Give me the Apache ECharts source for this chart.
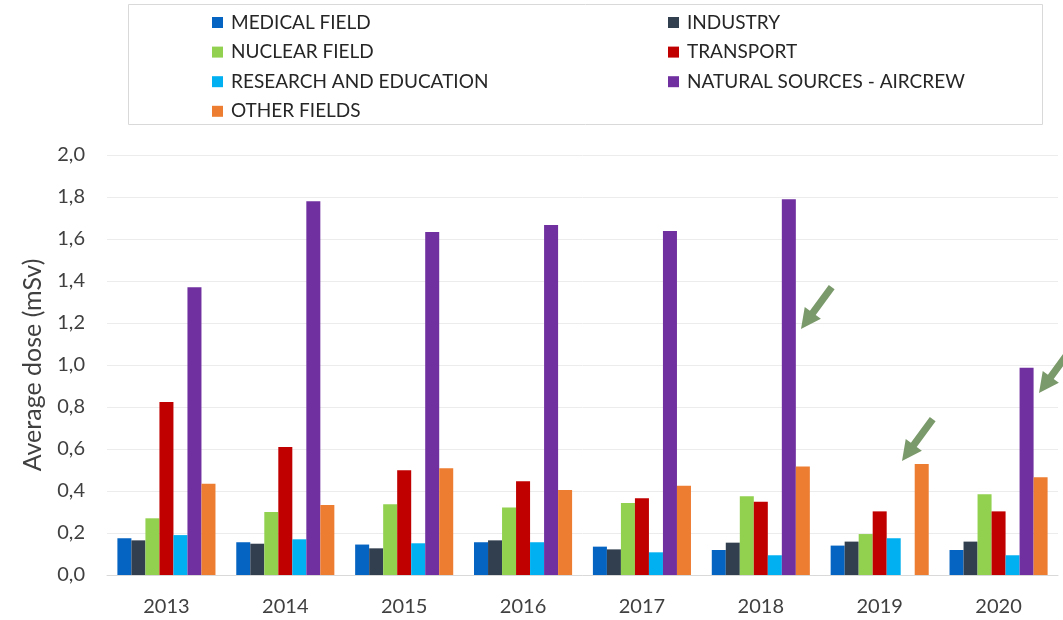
<!DOCTYPE html>
<html>
<head>
<meta charset="utf-8">
<script src="https://cdn.jsdelivr.net/npm/echarts@6/dist/echarts.min.js"></script>
<style>
html,body{margin:0;padding:0;background:#fff;}
#chart{width:1063px;height:620px;}
</style>
</head>
<body>
<div id="chart"></div>
<script>
const years = ['2013','2014','2015','2016','2017','2018','2019','2020'];
const medical   = [0.175, 0.156, 0.145, 0.156, 0.135, 0.119, 0.140, 0.119];
const industry  = [0.165, 0.149, 0.127, 0.165, 0.122, 0.154, 0.159, 0.159];
const nuclear   = [0.270, 0.300, 0.337, 0.322, 0.343, 0.375, 0.195, 0.384];
const transport = [0.824, 0.610, 0.499, 0.446, 0.365, 0.349, 0.303, 0.303];
const research  = [0.190, 0.170, 0.151, 0.156, 0.108, 0.094, 0.175, 0.094];
const aircrew   = [1.370, 1.780, 1.633, 1.667, 1.638, 1.789, null, 0.987];
const other     = [0.435, 0.333, 0.508, 0.405, 0.425, 0.517, 0.528, 0.465];
const yTicks = ['0,0','0,2','0,4','0,6','0,8','1,0','1,2','1,4','1,6','1,8','2,0'];

const names = ['MEDICAL FIELD','INDUSTRY','NUCLEAR FIELD','TRANSPORT','RESEARCH AND EDUCATION','NATURAL SOURCES - AIRCREW','OTHER FIELDS'];
const colors = ['#0563c1','#323f4f','#92d050','#c00000','#00b0f0','#7030a0','#ed7d31'];
const values = [medical, industry, nuclear, transport, research, aircrew, other];

const FONT = 'Lato';

// arrow annotation helper (tip point, direction toward tail)
function arrow(tx, ty, dx, dy) {
  const L = Math.hypot(dx, dy); const ux = dx / L, uy = dy / L;
  const px = -uy, py = ux;
  const headLen = 20, headHalf = 10, shaftHalf = 3.6, total = 52;
  const bx = tx + ux * headLen, by = ty + uy * headLen;
  const ex = tx + ux * total, ey = ty + uy * total;
  return {
    type: 'polygon', z: 100,
    shape: { points: [
      [tx, ty],
      [bx + px * headHalf, by + py * headHalf],
      [bx + px * shaftHalf, by + py * shaftHalf],
      [ex + px * shaftHalf, ey + py * shaftHalf],
      [ex - px * shaftHalf, ey - py * shaftHalf],
      [bx - px * shaftHalf, by - py * shaftHalf],
      [bx - px * headHalf, by - py * headHalf]
    ]},
    style: { fill: '#7b9a6b' }
  };
}

const chart = echarts.init(document.getElementById('chart'), null, {renderer: 'canvas'});
const legendCommon = {
  orient: 'vertical', itemWidth: 11, itemHeight: 11, itemGap: 10.6, icon: 'rect',
  textStyle: { fontFamily: FONT, fontSize: 19, color: '#262626', padding: [0,0,0,3] },
  selectedMode: false
};
chart.setOption({
  backgroundColor: '#fff',
  color: colors,
  animation: false,
  graphic: [
    { type: 'rect', shape: { x: 128.5, y: 4.5, width: 914, height: 120 },
      style: { fill: 'none', stroke: '#d9d9d9', lineWidth: 1 } },
    arrow(801, 329, 30, -41),
    arrow(902, 461, 30, -41),
    arrow(1039, 393, 30, -41)
  ],
  legend: [
    Object.assign({ left: 207, top: 8, data: [names[0], names[2], names[4], names[6]] }, legendCommon),
    Object.assign({ left: 663, top: 8, data: [names[1], names[3], names[5]] }, legendCommon)
  ],
  grid: { left: 107, right: 5, top: 155, bottom: 45, containLabel: false },
  xAxis: {
    type: 'category', data: years,
    axisTick: { show: false },
    axisLine: { lineStyle: { color: '#d9d9d9', width: 1 } },
    axisLabel: { fontFamily: FONT, fontSize: 20, color: '#404040', margin: 22 }
  },
  yAxis: {
    type: 'value', min: 0, max: 2, interval: 0.2,
    name: 'Average dose (mSv)', nameLocation: 'middle', nameGap: 62,
    nameTextStyle: { fontFamily: FONT, fontSize: 25, color: '#404040' },
    axisLine: { show: false }, axisTick: { show: false },
    splitLine: { lineStyle: { color: '#ececec', width: 1 } },
    axisLabel: { fontFamily: FONT, fontSize: 20, color: '#404040', margin: 22,
      formatter: function (v) { return yTicks[Math.round(v / 0.2)]; } }
  },
  series: names.map((n, i) => ({
    name: n, type: 'bar', data: values[i],
    barGap: '0%', barCategoryGap: '17.5%',
    itemStyle: { color: colors[i] }
  }))
});
</script>
</body>
</html>
